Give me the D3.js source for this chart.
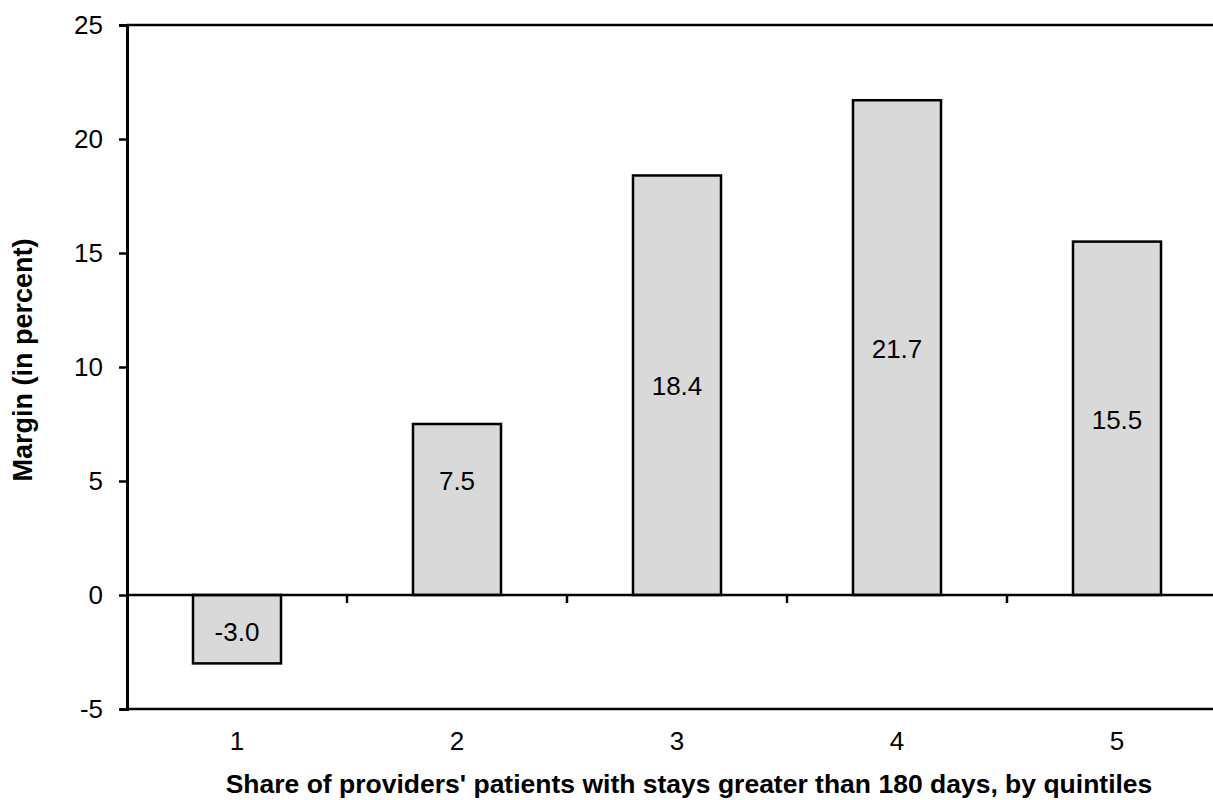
<!DOCTYPE html>
<html><head><meta charset="utf-8">
<script src="https://cdn.jsdelivr.net/npm/d3@7"></script>
<style>body{margin:0;background:#fff}svg{display:block}text{font-family:"Liberation Sans",Arial,sans-serif}</style>
</head><body><svg id="c" width="1213" height="800"></svg>
<script>
const categories = ["1","2","3","4","5"];
const values = [-3.0, 7.5, 18.4, 21.7, 15.5];
const labelAt = [-1.6, 5.0, 9.2, 10.8, 7.7];
const yTicks = [-5, 0, 5, 10, 15, 20, 25];
const yTitle = "Margin (in percent)";
const xTitle = "Share of providers' patients with stays greater than 180 days, by quintiles";

(function(){
const svg = d3.select("#c");
const pL = 127, pR = 1227, pT = 25, pB = 709;
const FS = 26;
const x = d3.scaleBand().domain(categories).range([pL, pR]).paddingInner(0.6).paddingOuter(0.3);
const xb = d3.scaleBand().domain(categories).range([pL, pR]);
const y = d3.scaleLinear().domain([-5, 25]).range([pB, pT]);

// bars
svg.selectAll("rect.bar").data(values).join("rect")
  .attr("x", (d,i) => x(categories[i]))
  .attr("width", x.bandwidth())
  .attr("y", d => y(Math.max(0, d)))
  .attr("height", d => Math.abs(y(d) - y(0)))
  .attr("fill", "#d9d9d9").attr("stroke", "#000").attr("stroke-width", 2.5);

// value labels
svg.selectAll("text.val").data(values).join("text")
  .attr("x", (d,i) => x(categories[i]) + x.bandwidth()/2)
  .attr("y", (d,i) => y(labelAt[i]))
  .attr("dy", "0.36em").attr("text-anchor", "middle")
  .attr("font-size", FS).attr("fill", "#000")
  .text(d => d.toFixed(1));

// y axis
const yAxis = d3.axisLeft(y).tickValues(yTicks).tickSize(8).tickPadding(16).tickFormat(d => String(d));
const ga = svg.append("g").attr("transform", `translate(${pL},0)`).call(yAxis);
ga.attr("font-size", FS).attr("font-family", "Liberation Sans, Arial, sans-serif");
ga.select(".domain").attr("stroke-width", 3);
ga.selectAll(".tick line").attr("stroke-width", 2.5);
ga.selectAll("text").attr("font-size", FS).attr("fill", "#000");

// horizontal lines at top, zero and bottom
[25, 0, -5].forEach(v => {
  svg.append("line").attr("x1", pL).attr("x2", 1213)
    .attr("y1", y(v)).attr("y2", y(v))
    .attr("stroke", "#000").attr("stroke-width", 2.7);
});

// category ticks on zero line
svg.selectAll("line.ct").data(categories.slice(1)).join("line")
  .attr("x1", d => xb(d)).attr("x2", d => xb(d))
  .attr("y1", y(0)).attr("y2", y(0) + 8)
  .attr("stroke", "#000").attr("stroke-width", 2.5);

// category labels
svg.selectAll("text.cat").data(categories).join("text")
  .attr("x", d => x(d) + x.bandwidth()/2)
  .attr("y", 741).attr("dy", "0.36em").attr("text-anchor", "middle")
  .attr("font-size", FS).text(d => d);

// titles
svg.append("text").attr("x", 689).attr("y", 793).attr("text-anchor", "middle")
  .attr("font-size", 26.5).attr("font-weight", "bold").text(xTitle);
svg.append("text").attr("transform", "translate(32,360) rotate(-90)")
  .attr("text-anchor", "middle").attr("font-size", 27).attr("font-weight", "bold").text(yTitle);
})();
</script></body></html>
